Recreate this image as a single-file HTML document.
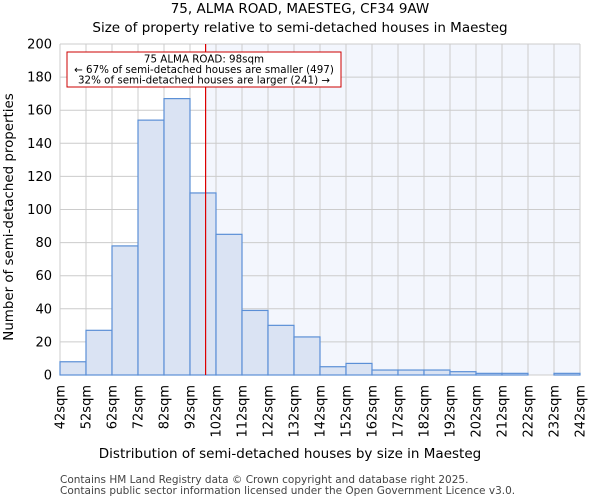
<!DOCTYPE html>
<html><head><meta charset="utf-8"><style>
body{margin:0;background:#fff;font-family:"DejaVu Sans","Liberation Sans",sans-serif;}
</style></head><body>
<svg id="c" width="600" height="500" xmlns="http://www.w3.org/2000/svg" font-family="DejaVu Sans, Liberation Sans, sans-serif">
<text x="300" y="13" text-anchor="middle" font-size="13.5">75, ALMA ROAD, MAESTEG, CF34 9AW</text>
<text x="300" y="32" text-anchor="middle" font-size="13.5">Size of property relative to semi-detached houses in Maesteg</text>
<g id="plot"></g>
<text x="290" y="458" text-anchor="middle" font-size="13.5">Distribution of semi-detached houses by size in Maesteg</text>
<text transform="translate(13,217) rotate(-90)" text-anchor="middle" font-size="13.4">Number of semi-detached properties</text>
<text x="60" y="483" font-size="10.5" fill="#444">Contains HM Land Registry data © Crown copyright and database right 2025.</text>
<text x="60" y="494" font-size="10.5" fill="#444">Contains public sector information licensed under the Open Government Licence v3.0.</text>
</svg>
<script>
const binEdges=[42,52,62,72,82,92,102,112,122,132,142,152,162,172,182,192,202,212,222,232,242];
const counts=[8,27,78,154,167,110,85,39,30,23,5,7,3,3,3,2,1,1,0,1];
const yTicks=[0,20,40,60,80,100,120,140,160,180,200];
const propertySize=98;
const x0=60,x1=580,yTop=44,yBot=375;
const xs=v=>x0+(v-42)/(242-42)*(x1-x0);
const ys=v=>yBot-v/200*(yBot-yTop);
const NS="http://www.w3.org/2000/svg";
const g=document.getElementById('plot');
function mk(t,a){const e=document.createElementNS(NS,t);for(const k in a)e.setAttribute(k,a[k]);g.appendChild(e);return e;}
let r=mk('rect',{x:xs(propertySize),y:yTop,width:x1-xs(propertySize),height:yBot-yTop,fill:'#f3f6fd'});


yTicks.forEach(t=>{
 let l=mk('line',{x1:x0,x2:x1,y1:ys(t),y2:ys(t),stroke:'#cccccc','stroke-width':1});
 
 
 let tx=mk('text',{x:x0-8,y:ys(t)+4.5,'text-anchor':'end','font-size':13});
 tx.textContent=t;
 
 
});
binEdges.forEach(b=>{
 let l=mk('line',{x1:xs(b),x2:xs(b),y1:yTop,y2:yBot,stroke:'#cccccc','stroke-width':1});
 
 
 let tx=mk('text',{transform:`translate(${xs(b)+4.5},${yBot+10}) rotate(-90)`,'text-anchor':'end','font-size':13});
 tx.textContent=b+'sqm';
 
 
});
counts.forEach((c,i)=>{
 if(c<=0)return;
 let b=mk('rect',{x:xs(binEdges[i]),y:ys(c),width:xs(binEdges[i+1])-xs(binEdges[i]),height:yBot-ys(c),fill:'#dae3f3',stroke:'#5b8fd6','stroke-width':1.2});
 
 
});
let rl=mk('line',{x1:xs(propertySize),x2:xs(propertySize),y1:yTop,y2:yBot,stroke:'#dd0000','stroke-width':1.2});


let box=mk('rect',{x:67,y:52,width:274,height:35,fill:'#fff',stroke:'#cc0000','stroke-width':1});


["75 ALMA ROAD: 98sqm","← 67% of semi-detached houses are smaller (497)","32% of semi-detached houses are larger (241) →"].forEach((s,i)=>{
 let t=mk('text',{x:204,y:62.5+i*10.5,'text-anchor':'middle','font-size':10.3});
 t.textContent=s;
 
 
});
</script>
</body></html>
